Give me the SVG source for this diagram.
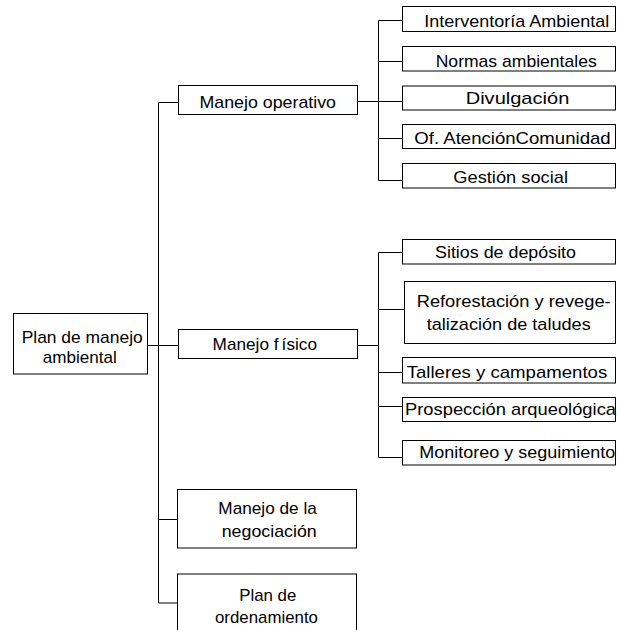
<svg xmlns="http://www.w3.org/2000/svg" width="617" height="630" viewBox="0 0 617 630">
<style>
.box{fill:#fff;stroke:#000;stroke-width:1}
.t{font-family:"Liberation Sans",Arial,sans-serif;font-size:17px;fill:#000}
.c{stroke:#000;stroke-width:1;fill:none}
</style>
<rect width="617" height="630" fill="#fff"/>
<g id="connectors">
<path class="c" d="M158.5 102.5V603 M158.5 102.5H178.5 M147.5 345.5H178.5 M158.5 519.5H177.5 M158.5 603H177.5"/>
<path class="c" d="M378.5 20.5V180.5 M357.5 101.5H402.5 M378.5 20.5H402.5 M378.5 61.5H402.5 M378.5 138.5H402.5 M378.5 180.5H402.5"/>
<path class="c" d="M378.5 252.5V457.5 M357.5 345.5H378.5 M378.5 252.5H402.5 M378.5 309.5H404.5 M378.5 372.5H402.5 M378.5 406.5H402.5 M378.5 457.5H402.5"/>
</g>
<g id="plan-manejo-ambiental">
<rect class="box" x="13.5" y="313.5" width="134" height="60.5"/>
<text class="t" x="21.7" y="343" textLength="121" lengthAdjust="spacingAndGlyphs">Plan de manejo</text>
<text class="t" x="42.7" y="363" textLength="74" lengthAdjust="spacingAndGlyphs">ambiental</text>
</g>
<g id="manejo-operativo">
<rect class="box" x="178.5" y="85.5" width="179" height="29"/>
<text class="t" x="199.5" y="108" textLength="136.5" lengthAdjust="spacingAndGlyphs">Manejo operativo</text>
</g>
<g id="manejo-fisico">
<rect class="box" x="178.5" y="329.5" width="179" height="29"/>
<text class="t" x="212.6" y="350" textLength="104.4" lengthAdjust="spacingAndGlyphs">Manejo f<tspan dx="3">ísico</tspan></text>
</g>
<g id="manejo-negociacion">
<rect class="box" x="177.5" y="489.5" width="179" height="58.5"/>
<text class="t" x="218.3" y="513.5" textLength="98.5" lengthAdjust="spacingAndGlyphs">Manejo de la</text>
<text class="t" x="221.7" y="537" textLength="95" lengthAdjust="spacingAndGlyphs">negociación</text>
</g>
<g id="plan-ordenamiento">
<rect class="box" x="177.5" y="574" width="179" height="62"/>
<text class="t" x="239.3" y="600.5" textLength="57" lengthAdjust="spacingAndGlyphs">Plan de</text>
<text class="t" x="215" y="623" textLength="103" lengthAdjust="spacingAndGlyphs">ordenamiento</text>
</g>
<g id="interventoria">
<rect class="box" x="402.5" y="6.5" width="213" height="25"/>
<text class="t" x="424.3" y="26.7" textLength="185" lengthAdjust="spacingAndGlyphs">Interventoría Ambiental</text>
</g>
<g id="normas">
<rect class="box" x="402.5" y="46.5" width="213" height="24.5"/>
<text class="t" x="435.7" y="66.7" textLength="161" lengthAdjust="spacingAndGlyphs">Normas ambientales</text>
</g>
<g id="divulgacion">
<rect class="box" x="402.5" y="86" width="213" height="24"/>
<text class="t" x="465.7" y="104" textLength="103.6" lengthAdjust="spacingAndGlyphs">Divulgación</text>
</g>
<g id="atencion-comunidad">
<rect class="box" x="402.5" y="124.5" width="213" height="24"/>
<text class="t" x="414.3" y="144" textLength="196.4" lengthAdjust="spacingAndGlyphs">Of. AtenciónComunidad</text>
</g>
<g id="gestion-social">
<rect class="box" x="402.5" y="163.5" width="213" height="24.5"/>
<text class="t" x="453.3" y="183" textLength="114.7" lengthAdjust="spacingAndGlyphs">Gestión social</text>
</g>
<g id="sitios-deposito">
<rect class="box" x="402.5" y="239.5" width="213" height="24.5"/>
<text class="t" x="435" y="258.3" textLength="141" lengthAdjust="spacingAndGlyphs">Sitios de depósito</text>
</g>
<g id="reforestacion">
<rect class="box" x="404.5" y="281.5" width="211" height="62"/>
<text class="t" x="416.7" y="306.7" textLength="194" lengthAdjust="spacingAndGlyphs">Reforestación y revege-</text>
<text class="t" x="426.7" y="330" textLength="164" lengthAdjust="spacingAndGlyphs">talización de taludes</text>
</g>
<g id="talleres">
<rect class="box" x="402.5" y="357.5" width="213" height="25.5"/>
<text class="t" x="406.7" y="377.7" textLength="200.6" lengthAdjust="spacingAndGlyphs">Talleres y campamentos</text>
</g>
<g id="prospeccion">
<rect class="box" x="402.5" y="397.5" width="213" height="24"/>
<text class="t" x="405" y="415" textLength="211" lengthAdjust="spacingAndGlyphs">Prospección arqueológica</text>
</g>
<g id="monitoreo">
<rect class="box" x="402.5" y="440.5" width="213" height="24.5"/>
<text class="t" x="419.3" y="457.5" textLength="196" lengthAdjust="spacingAndGlyphs">Monitoreo y seguimiento</text>
</g>
</svg>
